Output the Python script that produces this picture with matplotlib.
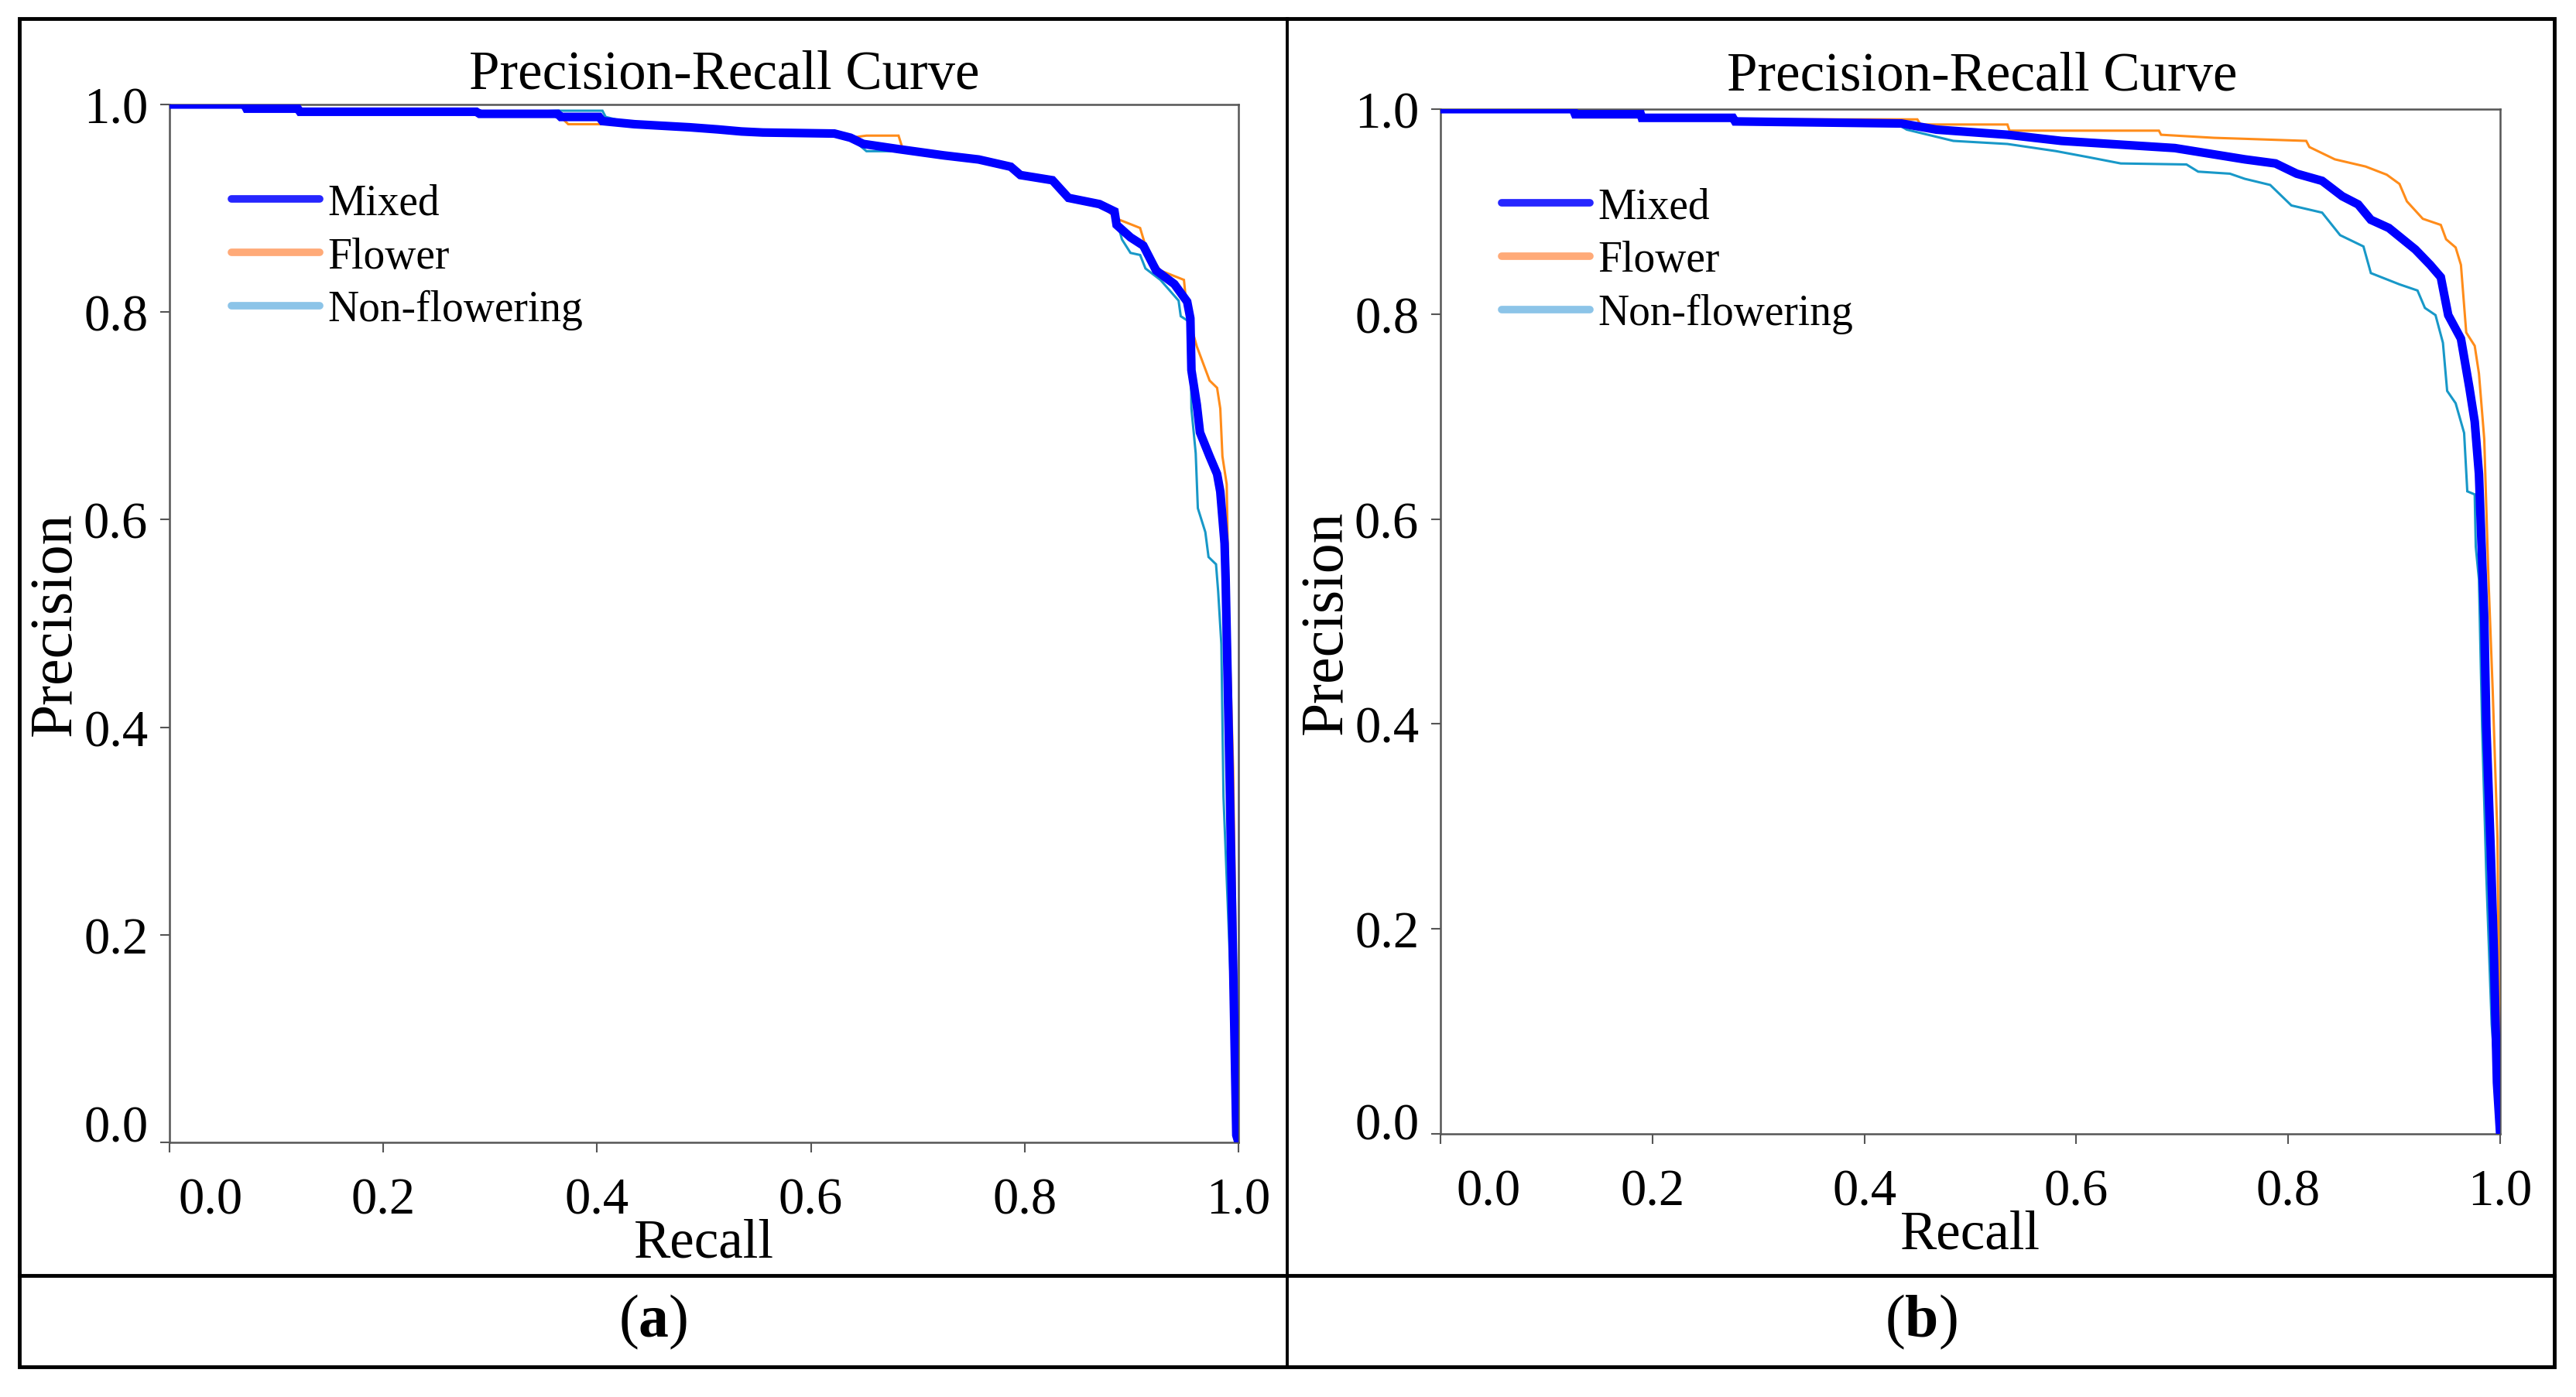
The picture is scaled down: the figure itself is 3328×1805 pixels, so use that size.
import matplotlib
matplotlib.use("Agg")
import matplotlib.pyplot as plt
from matplotlib.lines import Line2D
from matplotlib.patches import Rectangle
import matplotlib.transforms as mtransforms

plt.rcParams['font.family'] = ['Liberation Serif', 'DejaVu Serif']
plt.rcParams['mathtext.fontset'] = 'custom'
plt.rcParams['mathtext.rm'] = 'Liberation Serif'
plt.rcParams['mathtext.bf'] = 'Liberation Serif:bold'

# ---------------- data ----------------
series_names = ["Mixed", "Flower", "Non-flowering"]
tick_values = [0.0, 0.2, 0.4, 0.6, 0.8, 1.0]
tick_labels = ["0.0", "0.2", "0.4", "0.6", "0.8", "1.0"]
panel_labels = ["a", "b"]

# panel (a)
a_mixed_recall = [0.0, 0.07, 0.072, 0.12, 0.122, 0.287, 0.29, 0.363, 0.366, 0.402, 0.405, 0.435, 0.487, 0.513,
                  0.535, 0.555, 0.622, 0.637, 0.649, 0.682, 0.724, 0.757, 0.787, 0.796, 0.826, 0.841, 0.870,
                  0.884, 0.886, 0.899, 0.911, 0.923, 0.940, 0.952, 0.955, 0.956, 0.961, 0.964, 0.973, 0.980,
                  0.983, 0.987, 0.988, 0.9915, 0.998, 1.0]
a_mixed_precision = [1.0, 1.0, 0.996, 0.996, 0.993, 0.993, 0.991, 0.991, 0.988, 0.988, 0.984, 0.981, 0.978, 0.976,
                     0.974, 0.973, 0.972, 0.968, 0.962, 0.957, 0.951, 0.947, 0.940, 0.932, 0.927, 0.910, 0.904,
                     0.897, 0.884, 0.872, 0.864, 0.840, 0.827, 0.810, 0.794, 0.744, 0.711, 0.684, 0.661, 0.644,
                     0.627, 0.577, 0.542, 0.364, 0.007, 0.0]
a_flower_recall = [0.0, 0.07, 0.072, 0.12, 0.122, 0.287, 0.29, 0.363, 0.373, 0.431, 0.435, 0.487, 0.513, 0.535,
                   0.555, 0.622, 0.637, 0.652, 0.682, 0.686, 0.724, 0.757, 0.787, 0.796, 0.826, 0.841, 0.870,
                   0.886, 0.908, 0.915, 0.927, 0.949, 0.952, 0.961, 0.973, 0.980, 0.983, 0.985, 0.989, 0.991,
                   0.995, 1.0]
a_flower_precision = [1.0, 1.0, 0.996, 0.996, 0.993, 0.993, 0.991, 0.991, 0.981, 0.981, 0.981, 0.978, 0.976, 0.974,
                      0.973, 0.972, 0.968, 0.970, 0.970, 0.957, 0.951, 0.947, 0.940, 0.932, 0.927, 0.910, 0.904,
                      0.890, 0.881, 0.857, 0.840, 0.831, 0.800, 0.767, 0.734, 0.727, 0.707, 0.661, 0.634, 0.505,
                      0.36, 0.0]
a_nonflow_recall = [0.0, 0.07, 0.072, 0.12, 0.122, 0.287, 0.29, 0.363, 0.366, 0.405, 0.408, 0.435, 0.487, 0.513,
                    0.535, 0.555, 0.622, 0.637, 0.652, 0.682, 0.686, 0.724, 0.757, 0.787, 0.796, 0.826, 0.841,
                    0.870, 0.884, 0.891, 0.899, 0.908, 0.913, 0.927, 0.944, 0.946, 0.955, 0.956, 0.960, 0.962,
                    0.969, 0.972, 0.979, 0.981, 0.984, 0.986, 0.993, 1.0]
a_nonflow_precision = [1.0, 1.0, 0.996, 0.996, 0.993, 0.993, 0.991, 0.994, 0.994, 0.994, 0.988, 0.981, 0.978, 0.976,
                       0.974, 0.973, 0.972, 0.968, 0.955, 0.955, 0.957, 0.951, 0.947, 0.940, 0.932, 0.927, 0.910,
                       0.904, 0.897, 0.870, 0.857, 0.855, 0.842, 0.831, 0.811, 0.796, 0.79, 0.707, 0.664, 0.611,
                       0.588, 0.564, 0.557, 0.531, 0.48, 0.333, 0.15, 0.0]

# panel (b)
b_mixed_recall = [0.0, 0.125, 0.127, 0.189, 0.19, 0.276, 0.278, 0.435, 0.468, 0.535, 0.586, 0.693, 0.759, 0.788,
                  0.808, 0.832, 0.851, 0.866, 0.878, 0.895, 0.920, 0.934, 0.944, 0.951, 0.963, 0.971, 0.976,
                  0.980, 0.983, 0.985, 0.987, 0.991, 0.994, 0.997, 1.0]
b_mixed_precision = [1.0, 1.0, 0.995, 0.995, 0.9915, 0.9915, 0.988, 0.986, 0.980, 0.975, 0.969, 0.962, 0.951, 0.947,
                     0.937, 0.930, 0.915, 0.907, 0.892, 0.884, 0.863, 0.848, 0.836, 0.799, 0.776, 0.728, 0.695,
                     0.644, 0.56, 0.503, 0.397, 0.28, 0.18, 0.05, 0.0]
b_flower_recall = [0.0, 0.125, 0.127, 0.189, 0.19, 0.45, 0.453, 0.535, 0.537, 0.678, 0.68, 0.73, 0.76, 0.817,
                   0.820, 0.844, 0.873, 0.893, 0.905, 0.912, 0.927, 0.944, 0.949, 0.958, 0.963, 0.968, 0.976,
                   0.980, 0.985, 0.989, 0.993, 0.9975, 1.0]
b_flower_precision = [1.0, 1.0, 0.992, 0.992, 0.99, 0.99, 0.985, 0.985, 0.979, 0.979, 0.975, 0.972, 0.971, 0.969,
                      0.963, 0.951, 0.944, 0.936, 0.927, 0.910, 0.893, 0.887, 0.873, 0.865, 0.848, 0.782, 0.769,
                      0.742, 0.678, 0.541, 0.432, 0.288, 0.0]
b_nonflow_recall = [0.0, 0.125, 0.127, 0.189, 0.19, 0.276, 0.278, 0.43, 0.44, 0.484, 0.535, 0.581, 0.612, 0.642,
                    0.704, 0.715, 0.745, 0.759, 0.783, 0.803, 0.832, 0.849, 0.871, 0.878, 0.905, 0.922, 0.929,
                    0.939, 0.946, 0.950, 0.958, 0.966, 0.969, 0.976, 0.977, 0.980, 0.983, 0.987, 0.992, 1.0]
b_nonflow_precision = [1.0, 1.0, 0.995, 0.995, 0.9915, 0.9915, 0.988, 0.986, 0.980, 0.969, 0.966, 0.959, 0.953,
                       0.947, 0.946, 0.939, 0.937, 0.932, 0.926, 0.906, 0.899, 0.877, 0.866, 0.840, 0.829, 0.823,
                       0.806, 0.799, 0.772, 0.725, 0.713, 0.684, 0.627, 0.624, 0.573, 0.541, 0.397, 0.251, 0.107,
                       0.0]

panels = [
    [(a_nonflow_recall, a_nonflow_precision), (a_flower_recall, a_flower_precision), (a_mixed_recall, a_mixed_precision)],
    [(b_nonflow_recall, b_nonflow_precision), (b_flower_recall, b_flower_precision), (b_mixed_recall, b_mixed_precision)],
]

# ---------------- style ----------------
W, H = 3328, 1806
DPI = 100
fig = plt.figure(figsize=(W / DPI, H / DPI), dpi=DPI)
fig.patch.set_facecolor('white')

line_colors = {"Mixed": "#0000FF", "Flower": "#FF8C1A", "Non-flowering": "#1898C8"}
line_widths = {"Mixed": 8.0, "Flower": 2.2, "Non-flowering": 2.2}
legend_colors = {"Mixed": "#2626FF", "Flower": "#FFAA78", "Non-flowering": "#8CC4E8"}

# axes rectangles in pixel coordinates (left, top, right, bottom)
axes_px = [(219, 136, 1600, 1477), (1861, 142, 3230, 1466)]
title_x = [0.519, 0.511]
title_pad = [15, 18]
x0_shift_px = [53, 62]
y0_shift_px = [25, 17]

spine_color = "#555555"

for i, (l, t, r, b) in enumerate(axes_px):
    ax = fig.add_axes([l / W, 1 - b / H, (r - l) / W, (b - t) / H])
    order = ["Non-flowering", "Flower", "Mixed"]
    for name, (rx, py) in zip(order, panels[i]):
        ax.plot(rx, py, color=line_colors[name], lw=line_widths[name],
                solid_joinstyle='miter', zorder={"Mixed": 5, "Flower": 4, "Non-flowering": 3}[name])
    ax.set_xlim(0, 1)
    ax.set_ylim(0, 1)
    ax.set_xticks(tick_values)
    ax.set_xticklabels(tick_labels)
    ax.set_yticks(tick_values)
    ax.set_yticklabels(tick_labels)
    ax.tick_params(axis='both', direction='out', length=9, width=1.5, color=spine_color,
                   labelsize=48, labelcolor='black')
    ax.tick_params(axis='x', pad=23)
    ax.tick_params(axis='y', pad=11)
    for sp in ax.spines.values():
        sp.set_color(spine_color)
        sp.set_linewidth(1.8)
    ax.set_title("Precision-Recall Curve", fontsize=51, pad=title_pad[i], x=title_x[i])
    ax.set_xlabel("Recall", fontsize=51, labelpad=-6)
    ax.set_ylabel("Precision", fontsize=56, labelpad=0)

    # shift the 0.0 tick labels like in the reference
    xl = ax.get_xticklabels()[0]
    xl.set_transform(xl.get_transform() + mtransforms.ScaledTranslation(x0_shift_px[i] / DPI, 0, fig.dpi_scale_trans))
    yl = ax.get_yticklabels()[0]
    yl.set_transform(yl.get_transform() + mtransforms.ScaledTranslation(0, y0_shift_px[i] / DPI, fig.dpi_scale_trans))

    handles = [Line2D([], [], color=legend_colors[n], lw=7, solid_capstyle='round') for n in series_names]
    ax.legend(handles, series_names, loc='upper left', bbox_to_anchor=(0.058, 0.924),
              frameon=False, fontsize=40, handlelength=2.05, handletextpad=0.18,
              labelspacing=0.3, borderpad=0, borderaxespad=0)

# ---------------- frame / table lines ----------------
outer_l, outer_t, outer_r, outer_b = 25, 25, 3300, 1767
mid_x = 1663
row_y = 1649
fig.add_artist(Rectangle((outer_l / W, 1 - outer_b / H), (outer_r - outer_l) / W, (outer_b - outer_t) / H,
                         transform=fig.transFigure, fill=False, edgecolor='black', lw=3.5))
fig.add_artist(Line2D([mid_x / W, mid_x / W], [1 - outer_b / H, 1 - outer_t / H],
                      transform=fig.transFigure, color='black', lw=2.8))
fig.add_artist(Line2D([outer_l / W, outer_r / W], [1 - row_y / H, 1 - row_y / H],
                      transform=fig.transFigure, color='black', lw=3.5))

cell_centers = [(outer_l + mid_x) / 2, (mid_x + outer_r) / 2]
for cx, lab in zip(cell_centers, panel_labels):
    fig.text(cx / W, 1 - ((row_y + outer_b) / 2) / H, r"($\mathbf{%s}$)" % lab, fontsize=56,
             ha='center', va='center')

fig.savefig("out.png", dpi=DPI, facecolor='white')
